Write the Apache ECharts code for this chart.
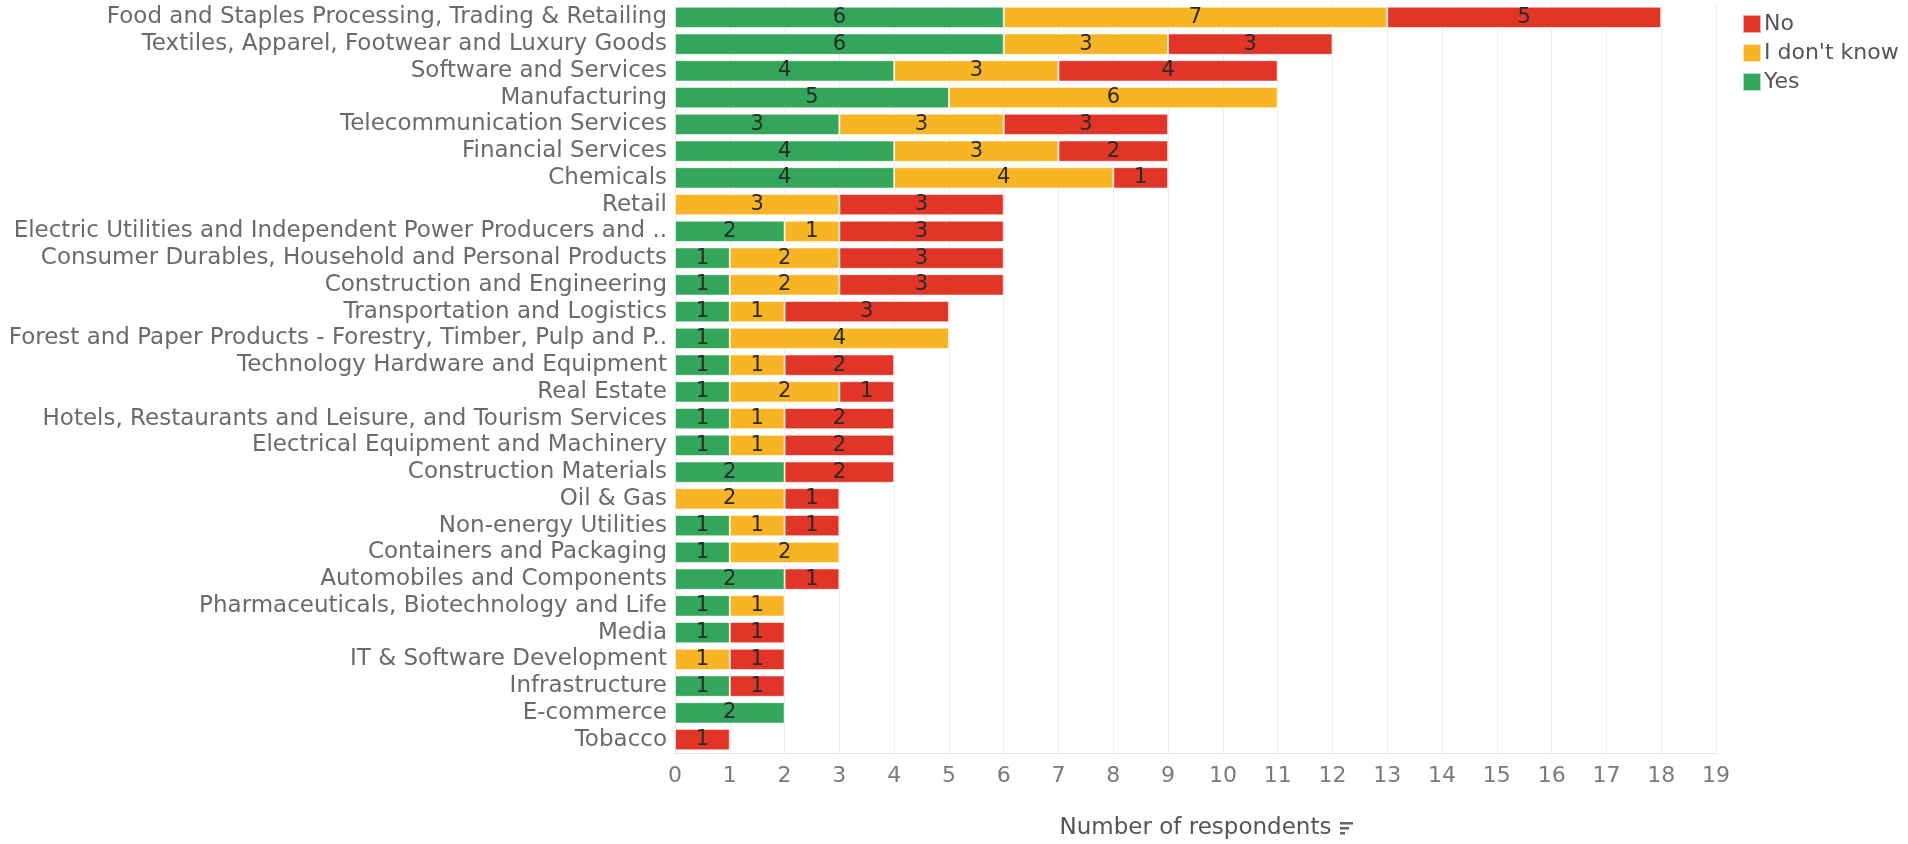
<!DOCTYPE html>
<html><head><meta charset="utf-8">
<script src="https://cdn.jsdelivr.net/npm/echarts@6/dist/echarts.min.js"></script>
<style>html,body{margin:0;padding:0;background:#fff}#c{width:1908px;height:844px}</style>
</head><body><div id="c"></div>
<script>
const categories = [
  "Food and Staples Processing, Trading & Retailing",
  "Textiles, Apparel, Footwear and Luxury Goods",
  "Software and Services",
  "Manufacturing",
  "Telecommunication Services",
  "Financial Services",
  "Chemicals",
  "Retail",
  "Electric Utilities and Independent Power Producers and ..",
  "Consumer Durables, Household and Personal Products",
  "Construction and Engineering",
  "Transportation and Logistics",
  "Forest and Paper Products - Forestry, Timber, Pulp and P..",
  "Technology Hardware and Equipment",
  "Real Estate",
  "Hotels, Restaurants and Leisure, and Tourism Services",
  "Electrical Equipment and Machinery",
  "Construction Materials",
  "Oil & Gas",
  "Non-energy Utilities",
  "Containers and Packaging",
  "Automobiles and Components",
  "Pharmaceuticals, Biotechnology and Life",
  "Media",
  "IT & Software Development",
  "Infrastructure",
  "E-commerce",
  "Tobacco"
];
const yesValues  = [6,6,4,5,3,4,4,null,2,1,1,1,1,1,1,1,1,2,null,1,1,2,1,1,null,1,2,null];
const idkValues  = [7,3,3,6,3,3,4,3,1,2,2,1,4,1,2,1,1,null,2,1,2,null,1,null,1,null,null,null];
const noValues   = [5,3,4,null,3,2,1,3,3,3,3,3,null,2,1,2,2,2,1,1,null,1,null,1,1,1,null,1];
const legendOrder = ["No","I don't know","Yes"];
const colors = {"Yes":"#34a65b","I don't know":"#f7b526","No":"#e13528"};

const FONT = "DejaVu Sans";
const chart = echarts.init(document.getElementById('c'), null, {renderer:'canvas'});
const mk = (name, data) => ({
  name, type:'bar', stack:'total', data,
  barCategoryGap:'20%',
  itemStyle:{color:colors[name], borderColor:'rgba(255,255,255,0.6)', borderWidth:1},
  label:{show:true, position:'inside', color:'#2a2a2a', fontFamily:FONT, fontSize:21,
         formatter:p => p.value == null ? '' : p.value},
  emphasis:{disabled:true}
});
chart.setOption({
  animation:false,
  grid:{left:675, right:192, top:4, bottom:91, containLabel:false, outerBoundsMode:'none'},
  legend:{
    data:legendOrder, orient:'vertical', left:1737, top:8, itemGap:7,
    itemWidth:18, itemHeight:18, icon:'rect',
    textStyle:{fontFamily:FONT, fontSize:22, color:'#555', padding:[0,0,0,-2]}
  },
  xAxis:{
    type:'value', min:0, max:19, interval:1,
    name:'Number of respondents', nameLocation:'middle', nameGap:64,
    nameTextStyle:{fontFamily:FONT, fontSize:23, color:'#555'},
    axisLine:{show:true, lineStyle:{color:'#e6e6e6'}},
    axisTick:{show:false},
    axisLabel:{fontFamily:FONT, fontSize:22, color:'#7a7a7a', margin:12},
    splitLine:{show:true, lineStyle:{color:'#efefef'}}
  },
  yAxis:{
    type:'category', data:categories, inverse:true,
    axisLine:{show:true, lineStyle:{color:'#e6e6e6'}},
    axisTick:{show:false},
    axisLabel:{interval:0, fontFamily:FONT, fontSize:23, color:'#6a6a6a', margin:8},
    splitLine:{show:false}
  },
  graphic:[
    {type:'rect', left:1340, top:822, shape:{width:13, height:2.5}, style:{fill:'#666'}},
    {type:'rect', left:1340, top:827, shape:{width:9, height:2.5}, style:{fill:'#666'}},
    {type:'rect', left:1340, top:832, shape:{width:5, height:2.5}, style:{fill:'#666'}}
  ],
  series:[mk("Yes",yesValues), mk("I don't know",idkValues), mk("No",noValues)]
});
</script></body></html>
